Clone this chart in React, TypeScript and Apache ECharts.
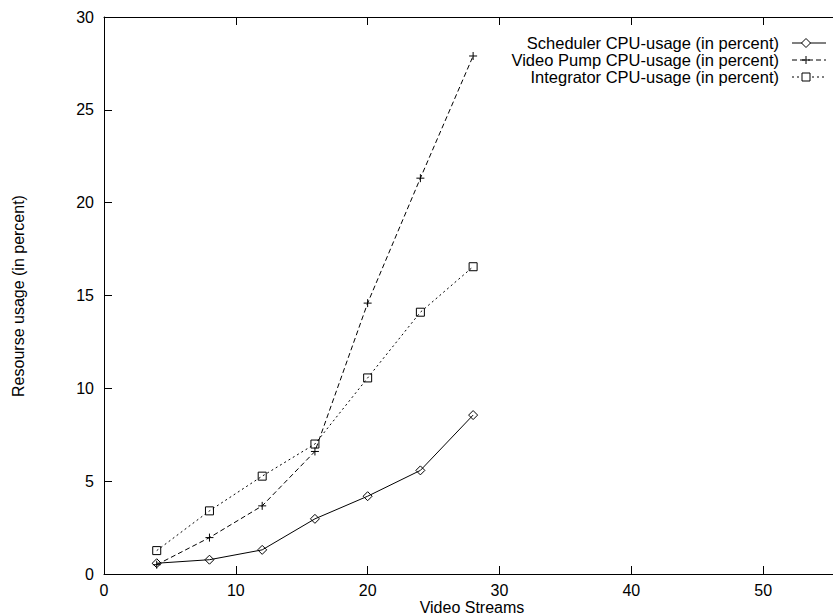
import React, { useEffect, useRef } from "react";
import * as echarts from "echarts";

const streams = [4, 8, 12, 16, 20, 24, 28];
const schedulerCpu = [0.58, 0.77, 1.3, 2.97, 4.19, 5.58, 8.56];
const videoPumpCpu = [0.5, 1.96, 3.67, 6.6, 14.59, 21.32, 27.9];
const integratorCpu = [1.26, 3.4, 5.27, 7.0, 10.56, 14.1, 16.55];
const seriesNames = [
  "Scheduler CPU-usage (in percent)",
  "Video Pump CPU-usage (in percent)",
  "Integrator CPU-usage (in percent)",
];
const xTitle = "Video Streams";
const yTitle = "Resourse usage (in percent)";

const FONT = '"Liberation Sans", Arial, Helvetica, sans-serif';
const PLUS = "path://M0,5L10,5M5,0L5,10";
const DIAMOND = "path://M5,0L10,5L5,10L0,5Z";
const SQUARE = "path://M0,0L10,0L10,10L0,10Z";

function pairs(ys: number[]) {
  return streams.map((x, i) => [x, ys[i]]);
}

export default function App() {
  const ref = useRef<HTMLDivElement>(null);
  useEffect(() => {
    if (!ref.current) return;
    const chart = echarts.init(ref.current, undefined, { renderer: "svg" });
    const axisCommon = {
      type: "value" as const,
      axisLine: { show: true, onZero: false, lineStyle: { color: "#000", width: 1 } },
      axisTick: { show: true, inside: true, length: 8, lineStyle: { color: "#000", width: 1 } },
      splitLine: { show: false },
    };
    const legendRows = [43, 60, 77];
    const lx1 = 792, lx2 = 826, lsx = 806;
    const graphic: any[] = [];
    seriesNames.forEach((n, i) => {
      graphic.push({
        type: "text",
        x: 779,
        y: legendRows[i],
        style: { text: n, font: `16.5px ${FONT}`, fill: "#000", align: "right", verticalAlign: "middle" },
      });
    });
    graphic.push({ type: "line", shape: { x1: lx1, y1: legendRows[0], x2: lx2, y2: legendRows[0] }, style: { stroke: "#000", lineWidth: 1 } });
    graphic.push({ type: "polygon", shape: { points: [[lsx - 4.5, legendRows[0]], [lsx, legendRows[0] - 4.5], [lsx + 4.5, legendRows[0]], [lsx, legendRows[0] + 4.5]] }, style: { fill: "#fff", stroke: "#000", lineWidth: 1 } });
    graphic.push({ type: "line", shape: { x1: lx1, y1: legendRows[1], x2: lx2, y2: legendRows[1] }, style: { stroke: "#000", lineWidth: 1, lineDash: [5, 3] } });
    graphic.push({ type: "line", shape: { x1: lsx - 4, y1: legendRows[1], x2: lsx + 4, y2: legendRows[1] }, style: { stroke: "#000", lineWidth: 1 } });
    graphic.push({ type: "line", shape: { x1: lsx, y1: legendRows[1] - 4, x2: lsx, y2: legendRows[1] + 4 }, style: { stroke: "#000", lineWidth: 1 } });
    graphic.push({ type: "line", shape: { x1: lx1, y1: legendRows[2], x2: lx2, y2: legendRows[2] }, style: { stroke: "#000", lineWidth: 1, lineDash: [2, 3] } });
    graphic.push({ type: "rect", shape: { x: lsx - 4, y: legendRows[2] - 4, width: 8, height: 8 }, style: { fill: "#fff", stroke: "#000", lineWidth: 1 } });
    graphic.push({
      type: "text",
      x: 18,
      y: 296,
      rotation: Math.PI / 2,
      style: { text: yTitle, font: `16px ${FONT}`, fill: "#000", align: "center", verticalAlign: "middle" },
    });
    graphic.push({
      type: "text",
      x: 472,
      y: 607,
      style: { text: xTitle, font: `16px ${FONT}`, fill: "#000", align: "center", verticalAlign: "middle" },
    });

    chart.setOption({
      animation: false,
      backgroundColor: "#fff",
      grid: { left: 104, top: 17, width: 729, height: 557, outerBoundsMode: "none", containLabel: false },
      xAxis: [
        {
          ...axisCommon,
          position: "bottom",
          min: 0,
          max: 55.3,
          interval: 10,
          axisLabel: {
            color: "#000",
            fontSize: 16,
            fontFamily: FONT,
            margin: 8,
            formatter: (v: number) => (v % 10 === 0 ? String(v) : ""),
          },
        },
        {
          ...axisCommon,
          position: "top",
          min: 0,
          max: 55.3,
          interval: 10,
          axisLabel: { show: false },
        },
      ],
      yAxis: [
        {
          ...axisCommon,
          position: "left",
          min: 0,
          max: 30,
          interval: 5,
          axisLabel: { color: "#000", fontSize: 16, fontFamily: FONT, margin: 10 },
        },
      ],
      graphic,
      series: [
        {
          name: seriesNames[0],
          type: "line",
          data: pairs(schedulerCpu),
          symbol: DIAMOND,
          symbolSize: 9,
          lineStyle: { color: "#000", width: 1, type: "solid" },
          itemStyle: { color: "transparent", borderColor: "#000", borderWidth: 1 },
        },
        {
          name: seriesNames[1],
          type: "line",
          data: pairs(videoPumpCpu),
          symbol: PLUS,
          symbolSize: 8,
          lineStyle: { color: "#000", width: 1, type: [5, 3] },
          itemStyle: { color: "transparent", borderColor: "#000", borderWidth: 1 },
        },
        {
          name: seriesNames[2],
          type: "line",
          data: pairs(integratorCpu),
          symbol: SQUARE,
          symbolSize: 8,
          lineStyle: { color: "#000", width: 1, type: [2, 3] },
          itemStyle: { color: "transparent", borderColor: "#000", borderWidth: 1 },
        },
      ],
    });
    return () => chart.dispose();
  }, []);
  return (
    <div
      ref={ref}
      style={{ position: "absolute", left: 0, top: 0, width: 833, height: 615 }}
    />
  );
}
